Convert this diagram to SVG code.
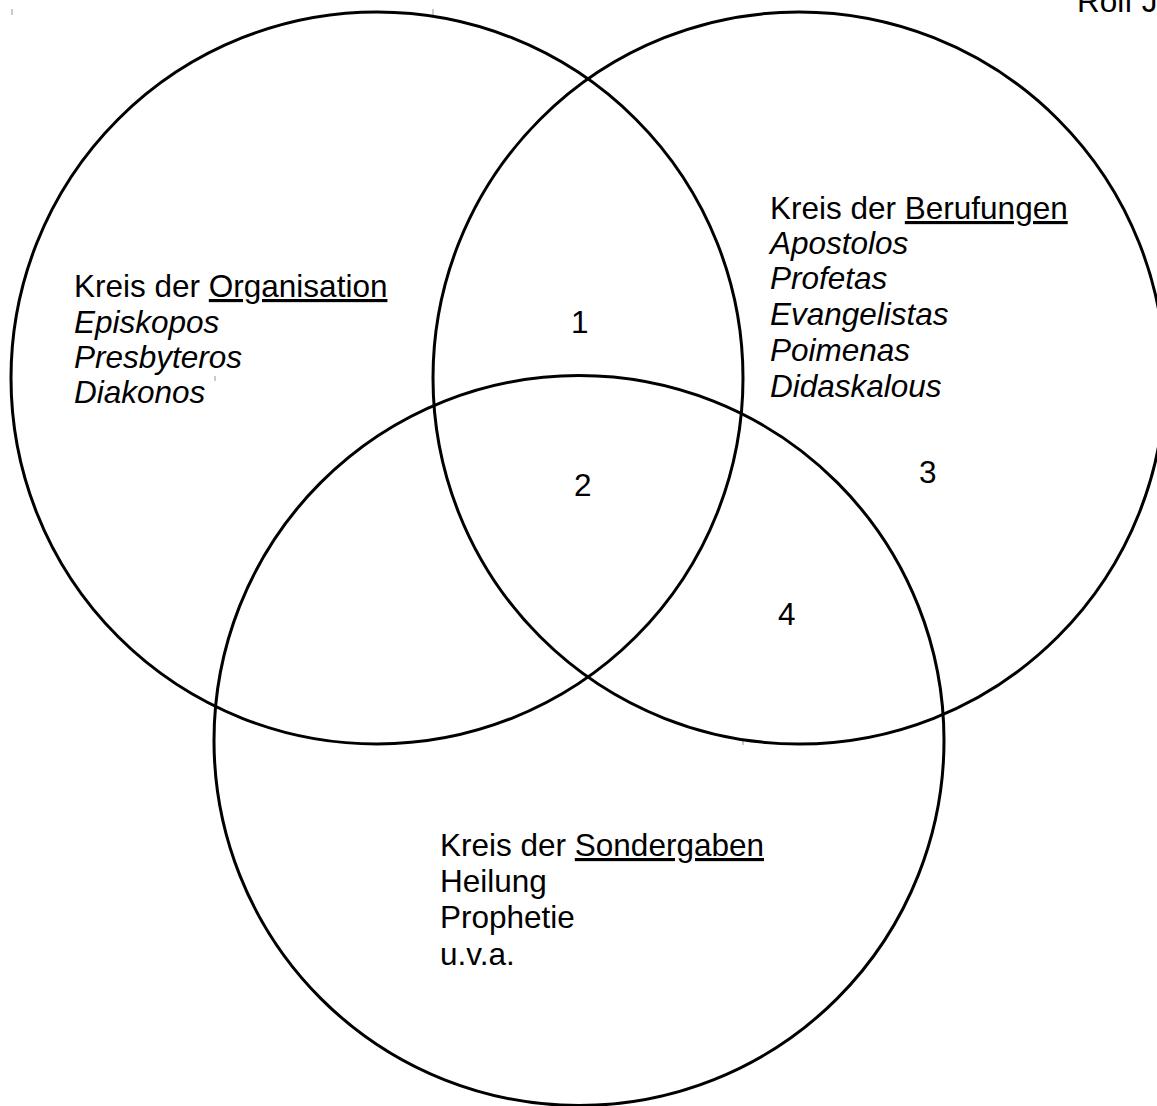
<svg xmlns="http://www.w3.org/2000/svg" width="1157" height="1106" viewBox="0 0 1157 1106">
<style>
.c{fill:none;stroke:#000;stroke-width:3}
.t{font-family:"Liberation Sans",Arial,sans-serif;font-size:31.5px;fill:#000}
.i{font-style:italic}
.u{text-decoration:underline}
.tick{stroke:#999;stroke-width:1}
</style>
<rect width="1157" height="1106" fill="#fff"/>
<g id="marks">
<line class="tick" x1="12" y1="9" x2="12" y2="15"/>
<line class="tick" x1="433" y1="9" x2="433" y2="15"/>
<line class="tick" x1="215" y1="376" x2="215" y2="381"/>
<line class="tick" x1="743" y1="740" x2="743" y2="745"/>
</g>
<g id="connectors"></g>
<g id="organisation">
<circle class="c" cx="377" cy="378" r="366"/>
<text class="t" x="74" y="297">Kreis der <tspan class="u">Organisation</tspan></text>
<text class="t i" x="74" y="333">Episkopos</text>
<text class="t i" x="74" y="368">Presbyteros</text>
<text class="t i" x="74" y="403">Diakonos</text>
</g>
<g id="berufungen">
<circle class="c" cx="799" cy="378" r="366"/>
<text class="t" x="770" y="219">Kreis der <tspan class="u">Berufungen</tspan></text>
<text class="t i" x="770" y="254">Apostolos</text>
<text class="t i" x="770" y="289">Profetas</text>
<text class="t i" x="770" y="325">Evangelistas</text>
<text class="t i" x="770" y="361">Poimenas</text>
<text class="t i" x="770" y="397">Didaskalous</text>
</g>
<g id="sondergaben">
<circle class="c" cx="579" cy="740.5" r="365"/>
<text class="t" x="440" y="856">Kreis der <tspan class="u">Sondergaben</tspan></text>
<text class="t" x="440" y="892">Heilung</text>
<text class="t" x="440" y="928">Prophetie</text>
<text class="t" x="440" y="965">u.v.a.</text>
</g>
<g id="labels">
<text class="t" x="571" y="333">1</text>
<text class="t" x="574" y="496">2</text>
<text class="t" x="919" y="483">3</text>
<text class="t" x="778" y="625">4</text>
<text class="t" x="1077" y="12">Rolf J</text>
</g>
</svg>
